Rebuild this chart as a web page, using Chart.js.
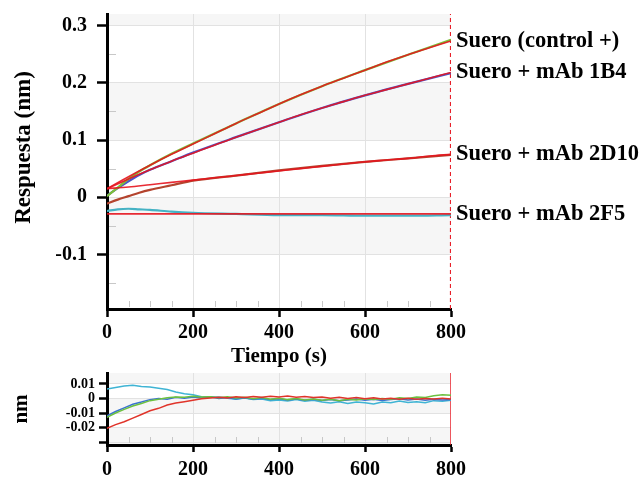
<!DOCTYPE html>
<html>
<head>
<meta charset="utf-8">
<script src="https://cdn.jsdelivr.net/npm/chart.js@4/dist/chart.umd.min.js"></script>
<style>
  html, body { margin: 0; padding: 0; background: #fff; }
  #wrap { position: relative; width: 642px; height: 481px; }
  #mainChart { position: absolute; left: 0; top: 0; }
  #residChart { position: absolute; left: 0; top: 362px; }
</style>
</head>
<body>
<div id="wrap">
  <canvas id="mainChart" width="642" height="370"></canvas>
  <canvas id="residChart" width="642" height="119"></canvas>
</div>
<script>
// series names (drawn at the right end of each fit)
const seriesLabels = ['Suero (control +)', 'Suero + mAb 1B4', 'Suero + mAb 2D10', 'Suero + mAb 2F5'];

// fitted curves (red), time in s, response in nm
const fitTimes = [0, 50, 100, 150, 200, 250, 300, 350, 400, 450, 500, 550, 600, 650, 700, 750, 800];
const fitControl = [0.015, 0.036, 0.056, 0.075, 0.093, 0.111, 0.129, 0.146, 0.163, 0.179, 0.194, 0.208, 0.222, 0.236, 0.249, 0.261, 0.273];
const fit1B4 = [0.015, 0.032, 0.048, 0.063, 0.077, 0.091, 0.105, 0.118, 0.131, 0.144, 0.156, 0.167, 0.178, 0.188, 0.198, 0.208, 0.218];
const fit2D10 = [0.015, 0.018, 0.022, 0.026, 0.030, 0.034, 0.038, 0.042, 0.046, 0.050, 0.054, 0.058, 0.062, 0.065, 0.068, 0.072, 0.075];
const fit2F5 = [-0.029, -0.029, -0.029, -0.029, -0.029, -0.029, -0.029, -0.029, -0.029, -0.029, -0.029, -0.029, -0.029, -0.029, -0.029, -0.029, -0.029];

// measured curves
const rawTimes = [0, 25, 50, 75, 100, 150, 200, 300, 400, 500, 600, 700, 800];
const rawControl = [0.002, 0.017, 0.032, 0.045, 0.056, 0.076, 0.094, 0.129, 0.163, 0.194, 0.222, 0.249, 0.275];
const raw1B4 = [0.003, 0.016, 0.028, 0.039, 0.048, 0.063, 0.078, 0.105, 0.131, 0.156, 0.178, 0.198, 0.217];
const raw2D10 = [-0.011, -0.004, 0.002, 0.008, 0.013, 0.021, 0.029, 0.038, 0.047, 0.055, 0.062, 0.068, 0.074];
const raw2F5 = [-0.024, -0.021, -0.020, -0.021, -0.022, -0.025, -0.027, -0.029, -0.031, -0.031, -0.032, -0.032, -0.031];

// residuals (nm)
const residTimes = [0, 20, 40, 60, 80, 100, 120, 140, 160, 180, 200, 220, 240, 260, 280, 300, 320, 340, 360, 380, 400,
  420, 440, 460, 480, 500, 520, 540, 560, 580, 600, 620, 640, 660, 680, 700, 720, 740, 760, 780, 800];
const res2F5 = [0.0065, 0.0075, 0.0085, 0.0090, 0.0082, 0.0078, 0.0070, 0.0062, 0.0045, 0.0032, 0.0025, 0.0012, 0.0008, 0.0010,
  0.0002, -0.0005, 0.0003, -0.0008, -0.0004, -0.0015, -0.0010, -0.0018, -0.0008, -0.0020, -0.0012, -0.0025, -0.0032, -0.0022,
  -0.0035, -0.0025, -0.0030, -0.0038, -0.0024, -0.0030, -0.0018, -0.0028, -0.0022, -0.0030, -0.0015, -0.0020, -0.0012];
const resControl = [-0.0130, -0.0100, -0.0075, -0.0052, -0.0035, -0.0015, -0.0005, 0.0005, 0.0010, 0.0008, 0.0015, 0.0010, 0.0012,
  0.0005, 0.0012, 0.0003, 0.0008, -0.0002, 0.0006, -0.0005, 0.0002, -0.0008, 0.0000, -0.0010, -0.0004, -0.0012, -0.0006, -0.0015,
  -0.0005, -0.0010, -0.0002, -0.0008, 0.0000, -0.0006, 0.0005, 0.0000, 0.0010, 0.0006, 0.0018, 0.0025, 0.0022];
const res1B4 = [-0.0120, -0.0090, -0.0065, -0.0040, -0.0025, -0.0008, 0.0000, -0.0005, 0.0008, 0.0002, 0.0010, 0.0004, 0.0012,
  0.0000, 0.0006, -0.0004, 0.0005, -0.0006, 0.0002, -0.0008, -0.0002, -0.0010, -0.0004, -0.0012, -0.0006, -0.0014, -0.0008, -0.0016,
  -0.0010, -0.0004, -0.0012, -0.0006, -0.0014, -0.0008, -0.0002, -0.0010, -0.0004, -0.0012, -0.0006, -0.0010, -0.0008];
const res2D10 = [-0.0205, -0.0180, -0.0160, -0.0135, -0.0110, -0.0085, -0.0068, -0.0045, -0.0032, -0.0022, -0.0012, -0.0002, 0.0003,
  0.0008, 0.0004, 0.0012, 0.0006, 0.0014, 0.0008, 0.0015, 0.0010, 0.0016, 0.0008, 0.0014, 0.0006, 0.0010, 0.0002, 0.0008,
  0.0000, 0.0006, -0.0002, 0.0004, -0.0004, 0.0002, -0.0005, 0.0001, -0.0006, 0.0000, -0.0004, 0.0002, -0.0003];

// axes
const xTicks = [0, 200, 400, 600, 800];
const xMinor = [50, 100, 150, 250, 300, 350, 450, 500, 550, 650, 700, 750];
const mainYTicks = [0.3, 0.2, 0.1, 0, -0.1];
const mainYLabels = ['0.3', '0.2', '0.1', '0', '-0.1'];
const mainYMinor = [0.25, 0.15, 0.05, -0.05, -0.15];
const resYTicks = [0.01, 0, -0.01, -0.02, -0.03];
const resYLabels = ['0.01', '0', '-0.01', '-0.02', ''];
const endTime = 800;

const serif = "'Liberation Serif', 'Times New Roman', serif";
Chart.defaults.font.family = serif;
Chart.defaults.font.weight = 'bold';
Chart.defaults.color = '#000';

const pts = (xs, ys) => xs.map((x, i) => ({ x: x, y: ys[i] }));

// y axis keeps a fixed width and adds no extra room above/below for its labels
const fixY = s => { s.width = 107; s.paddingTop = 0; s.paddingBottom = 0; };

// background bands, minor ticks, y title and end labels
const decor = {
  id: 'decor',
  beforeDraw(chart, args, opts) {
    const { ctx, chartArea: a, scales: { y } } = chart;
    ctx.save();
    ctx.fillStyle = '#f6f6f6';
    (opts.bands || []).forEach(b => {
      const top = y.getPixelForValue(b[1]), bot = y.getPixelForValue(b[0]);
      ctx.fillRect(a.left, top, a.right - a.left, bot - top);
    });
    ctx.restore();
  },
  beforeDatasetsDraw(chart, args, opts) {
    const { ctx, chartArea: a, scales: { x, y } } = chart;
    ctx.save();
    ctx.strokeStyle = '#c8c8c8';
    ctx.lineWidth = 1;
    ctx.beginPath();
    (opts.minorX || []).forEach(v => {
      const px = Math.round(x.getPixelForValue(v)) + 0.5;
      ctx.moveTo(px, a.bottom - 2);
      ctx.lineTo(px, a.bottom - 8);
    });
    (opts.minorY || []).forEach(v => {
      const py = Math.round(y.getPixelForValue(v)) + 0.5;
      ctx.moveTo(a.left + 2, py);
      ctx.lineTo(a.left + 9, py);
    });
    ctx.stroke();
    ctx.restore();
  },
  afterDraw(chart, args, opts) {
    const { ctx, chartArea: a, scales: { y } } = chart;
    ctx.save();
    ctx.fillStyle = '#000';
    ctx.textBaseline = 'middle';
    if (opts.yTitle) {
      // axis title sits a little above the middle of the plot, as in the source figure
      ctx.font = 'bold ' + opts.yTitle.size + 'px ' + serif;
      ctx.textAlign = 'center';
      ctx.translate(opts.yTitle.x, (a.top + a.bottom) / 2 + opts.yTitle.shift);
      ctx.rotate(-Math.PI / 2);
      ctx.fillText(opts.yTitle.text, 0, 0);
      ctx.setTransform(1, 0, 0, 1, 0, 0);
    }
    ctx.font = 'bold 22.5px ' + serif;
    ctx.textAlign = 'left';
    chart.data.datasets.forEach(ds => {
      if (!ds.endLabel) return;
      const last = ds.data[ds.data.length - 1];
      ctx.fillText(ds.endLabel, a.right + 5, y.getPixelForValue(last.y));
    });
    ctx.restore();
  }
};

const fitLine = (data, label) => ({
  data: pts(fitTimes, data), endLabel: label, borderColor: 'rgba(230,20,30,0.9)', borderWidth: 1.6,
  pointRadius: 0, cubicInterpolationMode: 'monotone', order: 0
});
const rawLine = (data, color) => ({
  data: pts(rawTimes, data), borderColor: color, borderWidth: 2.2,
  pointRadius: 0, cubicInterpolationMode: 'monotone', order: 1
});

const mainY = { min: -0.195, max: 0.32 };
new Chart(document.getElementById('mainChart'), {
  type: 'line',
  data: {
    datasets: [
      fitLine(fitControl, seriesLabels[0]),
      fitLine(fit1B4, seriesLabels[1]),
      fitLine(fit2D10, seriesLabels[2]),
      fitLine(fit2F5, seriesLabels[3]),
      rawLine(rawControl, '#7cbf3a'),
      rawLine(raw1B4, '#4b55c8'),
      rawLine(raw2D10, '#b4442e'),
      rawLine(raw2F5, '#45b2c4'),
      { data: [{ x: endTime, y: mainY.min }, { x: endTime, y: mainY.max }], borderColor: '#e8202a',
        borderWidth: 2.2, borderDash: [4, 3], pointRadius: 0, order: 2 }
    ]
  },
  options: {
    responsive: false,
    animation: false,
    layout: { padding: { left: 0, right: 191, top: 14, bottom: 0 } },
    plugins: {
      legend: { display: false },
      tooltip: { enabled: false },
      decor: {
        bands: [[0.3, mainY.max], [0.1, 0.2], [-0.1, 0]], minorX: xMinor, minorY: mainYMinor,
        yTitle: { text: 'Respuesta (nm)', size: 23, x: 24, shift: -14 }
      }
    },
    scales: {
      x: {
        type: 'linear', min: 0, max: 800,
        afterBuildTicks: s => { s.ticks = xTicks.map(v => ({ value: v })); },
        afterFit: s => { s.height = 61; },
        ticks: { font: { size: 20 }, padding: 4, autoSkip: false, callback: v => String(v) },
        grid: { color: c => (c.tick && c.tick.value === endTime ? 'transparent' : '#e2e2e2'), tickColor: '#000', tickLength: 8, tickWidth: 2.5 },
        border: { color: '#000', width: 3 },
        title: { display: true, text: 'Tiempo (s)', font: { size: 21 }, padding: { top: 0, bottom: 1 } }
      },
      y: {
        min: mainY.min, max: mainY.max,
        afterBuildTicks: s => { s.ticks = mainYTicks.map(v => ({ value: v })); },
        afterFit: fixY,
        ticks: { font: { size: 20 }, padding: 10, autoSkip: false, callback: (v, i) => mainYLabels[i] },
        grid: { color: '#e2e2e2', tickColor: '#000', tickLength: 10, tickWidth: 2.5 },
        border: { color: '#000', width: 3 }
      }
    }
  },
  plugins: [decor]
});

const resLine = (data, color) => ({
  data: pts(residTimes, data), borderColor: color, borderWidth: 1.5, pointRadius: 0, tension: 0
});
const resY = { min: -0.032, max: 0.0175 };
new Chart(document.getElementById('residChart'), {
  type: 'line',
  data: {
    datasets: [
      resLine(res2D10, '#e0342a'),
      resLine(resControl, '#6cc040'),
      resLine(res1B4, '#3a72d0'),
      resLine(res2F5, '#3fb4d4'),
      { data: [{ x: endTime, y: resY.min }, { x: endTime, y: resY.max }], borderColor: '#e8202a',
        borderWidth: 1.5, pointRadius: 0 }
    ]
  },
  options: {
    responsive: false,
    animation: false,
    layout: { padding: { left: 0, right: 191, top: 11, bottom: 0 } },
    plugins: {
      legend: { display: false },
      tooltip: { enabled: false },
      decor: { bands: [[0.01, resY.max], [-0.01, 0], [resY.min, -0.02]], minorX: xMinor }
    },
    scales: {
      x: {
        type: 'linear', min: 0, max: 800,
        afterBuildTicks: s => { s.ticks = xTicks.map(v => ({ value: v })); },
        afterFit: s => { s.height = 36; },
        ticks: { font: { size: 20 }, padding: 6, autoSkip: false, callback: v => String(v) },
        grid: { color: c => (c.tick && c.tick.value === endTime ? 'transparent' : '#e2e2e2'), tickColor: '#000', tickLength: 7, tickWidth: 2.5 },
        border: { color: '#000', width: 3 }
      },
      y: {
        min: resY.min, max: resY.max,
        afterBuildTicks: s => { s.ticks = resYTicks.map(v => ({ value: v })); },
        afterFit: fixY,
        ticks: { font: { size: 14 }, padding: 4, autoSkip: false, callback: (v, i) => resYLabels[i] },
        grid: { color: '#e2e2e2', tickColor: '#000', tickLength: 8, tickWidth: 2.5 },
        border: { color: '#000', width: 3 },
        title: { display: true, text: 'nm', font: { size: 21 }, padding: { top: 9, bottom: 0 } }
      }
    }
  },
  plugins: [decor]
});
</script>
</body>
</html>
